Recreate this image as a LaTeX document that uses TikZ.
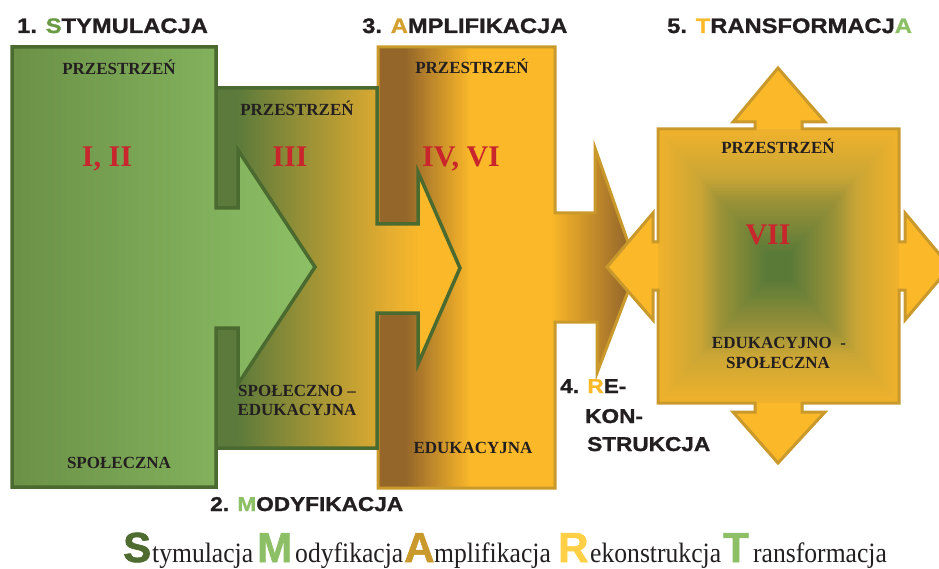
\documentclass[tikz,border=0pt]{standalone}
\usepackage{fontspec}
\setmainfont{Liberation Serif}
\newfontfamily\headfont{Liberation Sans}[FakeStretch=1.13, BoldFeatures={FakeBold=1.2}]
\newfontfamily\capfont{Liberation Sans}[BoldFeatures={FakeBold=1.5}]
\newfontfamily\lowfont{Liberation Serif}[FakeStretch=0.915]

\definecolor{gborder}{HTML}{4B6A2F}
\definecolor{gdark}{HTML}{5B7A3B}
\definecolor{gmid}{HTML}{6B9147}
\definecolor{glight}{HTML}{8DC066}
\definecolor{gheadS}{HTML}{6B9A45}
\definecolor{goldfill}{HTML}{FBB829}
\definecolor{goldedge}{HTML}{C9992C}
\definecolor{brownfill}{HTML}{94662A}
\definecolor{ochrefill}{HTML}{E2AC30}
\definecolor{boxgreen}{HTML}{5A7A38}
\definecolor{boxmid}{HTML}{9A9238}
\definecolor{boxochre}{HTML}{C9A535}
\definecolor{boxedge}{HTML}{F0B22C}
\definecolor{numred}{HTML}{C9252C}
\definecolor{ink}{HTML}{231F20}
\definecolor{capS}{HTML}{4E6B30}
\definecolor{capA}{HTML}{C9992C}
\definecolor{capR}{HTML}{FFD045}
\definecolor{headA}{HTML}{D4A030}

\begin{document}
\begin{tikzpicture}[x=1pt,y=-1pt,line join=miter,
  greenedge/.style={draw=gborder,line width=3.5pt},
  goldline/.style={draw=goldedge,line width=3pt},
  lbl/.style={font=\bfseries\fontsize{17}{19}\selectfont,text=ink,anchor=base,inner sep=0pt},
  roman/.style={font=\bfseries\fontsize{30}{30}\selectfont,text=numred,anchor=base,inner sep=0pt},
  head/.style={font=\headfont\bfseries\fontsize{21}{21}\selectfont,text=ink,anchor=base west,inner sep=0pt},
  subhead/.style={font=\headfont\bfseries\fontsize{20}{20}\selectfont,text=ink,anchor=base west,inner sep=0pt},
  bigcap/.style={font=\capfont\bfseries\fontsize{42}{42}\selectfont,anchor=base west,inner sep=0pt},
  lowword/.style={font=\lowfont\fontsize{28}{28}\selectfont,text=ink,anchor=base west,inner sep=0pt}]

\useasboundingbox (0,0) rectangle (939,569);
\clip (0,0) rectangle (939,569);

% 3. Amplifikacja (back layer): brown -> gold -> brown, in thin vertical stripes
\draw[goldline,path picture={
    \foreach \xx in {374,376,...,648} {
      \pgfmathsetmacro{\ta}{max(0,min(100,(\xx-405)/65*100))}
      \pgfmathsetmacro{\tb}{max(0,min(100,(\xx-550)/78*100))}
      \colorlet{stripeA}{goldfill!\ta!brownfill}
      \colorlet{stripeB}{brownfill!\tb!stripeA}
      \fill[stripeB] (\xx,40) rectangle (\xx+2.6,495);
    }
  }]
  (378,47) -- (555,47) -- (555,213) -- (595,213) -- (595,148) -- (637,268)
  -- (597,373) -- (597,322) -- (555,322) -- (555,488) -- (378,488) -- cycle;

% 2. Modyfikacja: dark green -> ochre -> gold
\draw[greenedge,path picture={
    \foreach \xx in {212,214,...,464} {
      \pgfmathsetmacro{\ta}{max(0,min(100,(\xx-236)/150*100))}
      \pgfmathsetmacro{\tb}{max(0,min(100,(\xx-386)/35*100))}
      \colorlet{stripeA}{ochrefill!\ta!gdark}
      \colorlet{stripeB}{goldfill!\tb!stripeA}
      \fill[stripeB] (\xx,80) rectangle (\xx+2.6,455);
    }
  }]
  (216,88) -- (377,88) -- (377,224) -- (418,224) -- (418,172) -- (460,268)
  -- (418,364) -- (418,313) -- (377,313) -- (377,448) -- (216,448) -- cycle;

% 1. Stymulacja: green, lighter to the right
\draw[greenedge,path picture={
    \foreach \xx in {8,10,...,320} {
      \pgfmathsetmacro{\ta}{max(0,min(100,(\xx-12)/300*100))}
      \colorlet{stripeA}{glight!\ta!gmid}
      \fill[stripeA] (\xx,40) rectangle (\xx+2.6,495);
    }
  }]
  (12,47) -- (216,47) -- (216,208) -- (238,208) -- (238,150) -- (315,267)
  -- (238,384) -- (238,328) -- (216,328) -- (216,487) -- (12,487) -- cycle;

% 5. Transformacja: square with four arrows; the square fades from gold
% at its edges to green at its centre (nested rectangles)
\draw[goldline,fill=goldfill,path picture={
    \foreach \k in {0,...,59} {
      \pgfmathsetmacro{\f}{\k/60}
      \pgfmathsetmacro{\ta}{max(0,min(100,\f/0.35*100))}
      \pgfmathsetmacro{\tb}{max(0,min(100,(\f-0.35)/0.17*100))}
      \pgfmathsetmacro{\tc}{max(0,min(100,(\f-0.52)/0.38*100))}
      \pgfmathsetmacro{\hw}{120.5*(1-\f)}
      \pgfmathsetmacro{\hh}{137*(1-\f)}
      \colorlet{ringA}{boxochre!\ta!boxedge}
      \colorlet{ringB}{boxmid!\tb!ringA}
      \colorlet{ringC}{boxgreen!\tc!ringB}
      \fill[ringC] (778.5-\hw,266-\hh) rectangle (778.5+\hw,266+\hh);
    }
  }]
  (658,129) -- (755,129) -- (755,122) -- (733,122) -- (778,68) -- (825,122)
  -- (802,122) -- (802,129) -- (899,129) -- (899,242) -- (905,242) -- (905,213)
  -- (950,267) -- (905,320) -- (905,290) -- (899,290) -- (899,403) -- (802,403)
  -- (802,412) -- (825,412) -- (778,463) -- (733,412) -- (755,412) -- (755,403)
  -- (658,403) -- (658,290) -- (653,290) -- (653,320) -- (607,267) -- (653,213)
  -- (653,242) -- (658,242) -- cycle;

% labels inside the shapes
\node[lbl] (space1) at (119,75) {PRZESTRZEŃ};
\node[roman] (num1) at (107,167) {I, II};
\node[lbl] (soc1) at (119,468) {SPOŁECZNA};

\node[lbl] (space2) at (297,116) {PRZESTRZEŃ};
\node[roman] (num2) at (290,167) {III};
\node[lbl] (soced2a) at (297,396) {SPOŁECZNO –};
\node[lbl] (soced2b) at (297,415) {EDUKACYJNA};

\node[lbl] (space3) at (472,74) {PRZESTRZEŃ};
\node[roman] (num3) at (461,167) {IV, VI};
\node[lbl] (edu3) at (473,453) {EDUKACYJNA};

\node[lbl] (space5) at (778,154) {PRZESTRZEŃ};
\node[roman] (num5) at (768,245) {VII};
\node[lbl] (edsoc5a) at (779,348) {EDUKACYJNO \ -};
\node[lbl] (edsoc5b) at (778,368) {SPOŁECZNA};

% stage headings
\node[head] (stage1) at (17,33) {1. {\color{gheadS}S}TYMULACJA};
\node[head] (stage3) at (362,33) {3. {\color{headA}A}MPLIFIKACJA};
\node[head] (stage5) at (667,33) {5. {\color{goldfill}T}RANSFORMACJ{\color{glight}A}};
\node[subhead] (stage2) at (210,511) {2. {\color{glight}M}ODYFIKACJA};
\node[subhead] (stage4a) at (560,393) {4. {\color{goldfill}R}E-};
\node[subhead] (stage4b) at (585,423) {KON-};
\node[subhead] (stage4c) at (587,451) {STRUKCJA};

% acronym line
\node[bigcap,text=capS] (capS) at (123,562) {S};
\node[lowword] (wS) at (152,562) {tymulacja};
\node[bigcap,text=glight] (capM) at (257,562) {M};
\node[lowword] (wM) at (295,562) {odyfikacja};
\node[bigcap,text=capA] (capA) at (404,562) {A};
\node[lowword] (wA) at (434,562) {mplifikacja};
\node[bigcap,text=capR] (capR) at (558,562) {R};
\node[lowword] (wR) at (590,562) {ekonstrukcja};
\node[bigcap,text=glight] (capT) at (723,562) {T};
\node[lowword] (wT) at (753,562) {ransformacja};
\end{tikzpicture}
\end{document}
